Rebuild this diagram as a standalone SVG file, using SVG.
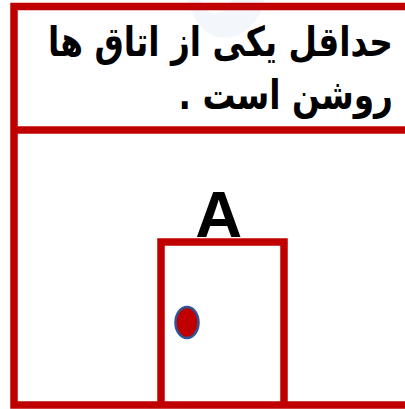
<svg xmlns="http://www.w3.org/2000/svg" width="405" height="409" viewBox="0 0 405 409">
  <style>
    .frame { fill: none; stroke: #C00000; stroke-width: 7.5; }
    .title { font-family: "DejaVu Sans", "Noto Sans", sans-serif; font-weight: bold; font-size: 41px; fill: #000000; }
    .label { font-family: "Liberation Sans", Arial, sans-serif; font-weight: bold; font-size: 65px; fill: #000000; }
  </style>
  <rect x="0" y="0" width="405" height="409" fill="#FFFFFF"/>
  <g id="background-mark" opacity="0.35">
    <path d="M188,0 L200,0 Q215,28 232,0 L265,0 Q255,35 226,38 Q198,38 188,0 Z" fill="#DCE8F5"/>
  </g>
  <g id="frame">
    <path class="frame" d="M405,6.5 L14,6.5 L14,405 L405,405"/>
    <line class="frame" x1="14" y1="130" x2="405" y2="130" stroke-width="7"/>
  </g>
  <g id="title" transform="translate(393,0) scale(0.8,1)">
    <text class="title" x="0" y="56" text-anchor="end">حداقل یکی از اتاق ها</text>
    <text class="title" x="0" y="109" text-anchor="end">روشن است .&#x200F;</text>
  </g>
  <g id="door-A">
    <path class="frame" d="M161,405 L161,242 L284,242 L284,405"/>
    <ellipse cx="187" cy="322.5" rx="11.5" ry="15.5" fill="#C00000" stroke="#2F5597" stroke-width="2.5"/>
    <text class="label" x="218.7" y="237" text-anchor="middle">A</text>
  </g>
</svg>
